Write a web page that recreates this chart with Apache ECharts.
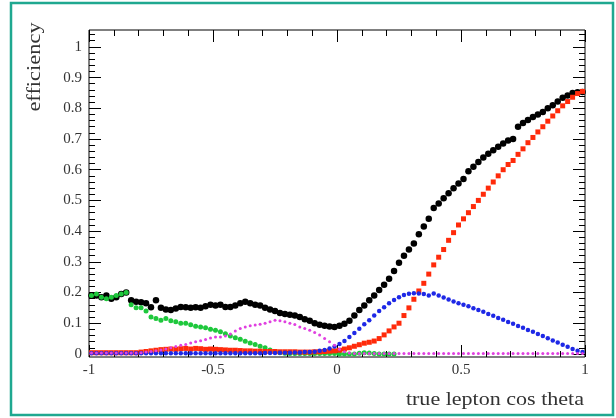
<!DOCTYPE html>
<html>
<head>
<meta charset="utf-8">
<script src="https://cdn.jsdelivr.net/npm/echarts@6/dist/echarts.min.js"></script>
<style>
  html, body { margin: 0; padding: 0; background: #fff; }
  #main { width: 616px; height: 418px; }
</style>
</head>
<body>
<div id="main"></div>
<script>
// bin centres of true lepton cos theta
const cosTheta = [
  -0.99, -0.97, -0.95, -0.93, -0.91, -0.89, -0.87, -0.85, -0.83, -0.81,
  -0.79, -0.77, -0.75, -0.73, -0.71, -0.69, -0.67, -0.65, -0.63, -0.61,
  -0.59, -0.57, -0.55, -0.53, -0.51, -0.49, -0.47, -0.45, -0.43, -0.41,
  -0.39, -0.37, -0.35, -0.33, -0.31, -0.29, -0.27, -0.25, -0.23, -0.21,
  -0.19, -0.17, -0.15, -0.13, -0.11, -0.09, -0.07, -0.05, -0.03, -0.01,
  0.01, 0.03, 0.05, 0.07, 0.09, 0.11, 0.13, 0.15, 0.17, 0.19,
  0.21, 0.23, 0.25, 0.27, 0.29, 0.31, 0.33, 0.35, 0.37, 0.39,
  0.41, 0.43, 0.45, 0.47, 0.49, 0.51, 0.53, 0.55, 0.57, 0.59,
  0.61, 0.63, 0.65, 0.67, 0.69, 0.71, 0.73, 0.75, 0.77, 0.79,
  0.81, 0.83, 0.85, 0.87, 0.89, 0.91, 0.93, 0.95, 0.97, 0.99
]

const effTotal = [
  0.19, 0.19, 0.185, 0.19, 0.18, 0.185, 0.195, 0.2, 0.175, 0.17,
  0.168, 0.165, 0.152, 0.175, 0.15, 0.145, 0.143, 0.148, 0.153, 0.152,
  0.15, 0.152, 0.15, 0.155, 0.16, 0.158, 0.16, 0.153, 0.153, 0.158,
  0.165, 0.17, 0.165, 0.16, 0.158, 0.15, 0.145, 0.14, 0.133, 0.13,
  0.128, 0.125, 0.12, 0.113, 0.108, 0.1, 0.095, 0.092, 0.089, 0.088,
  0.092, 0.098, 0.108, 0.125, 0.143, 0.158, 0.175, 0.19, 0.208, 0.225,
  0.245, 0.27, 0.297, 0.32, 0.34, 0.36, 0.39, 0.415, 0.44, 0.475,
  0.49, 0.507, 0.523, 0.54, 0.555, 0.57, 0.595, 0.61, 0.625, 0.64,
  0.652, 0.663, 0.675, 0.685, 0.695, 0.7, 0.74, 0.752, 0.762, 0.772,
  0.78, 0.788, 0.8, 0.81, 0.822, 0.834, 0.842, 0.85, 0.852, 0.853
]

const effRed = [
  0.004, 0.004, 0.004, 0.004, 0.004, 0.004, 0.004, 0.004, 0.004, 0.004,
  0.006, 0.008, 0.01, 0.012, 0.014, 0.015, 0.016, 0.015, 0.017, 0.018,
  0.016, 0.018, 0.017, 0.015, 0.016, 0.015, 0.014, 0.013, 0.012, 0.012,
  0.011, 0.01, 0.01, 0.009, 0.009, 0.008, 0.008, 0.008, 0.007, 0.007,
  0.007, 0.007, 0.006, 0.006, 0.006, 0.007, 0.007, 0.008, 0.009, 0.01,
  0.012, 0.016, 0.02, 0.025, 0.03, 0.035, 0.038, 0.042, 0.05, 0.062,
  0.075, 0.088, 0.1, 0.125, 0.15, 0.178, 0.205, 0.23, 0.26, 0.29,
  0.315, 0.34, 0.37, 0.395, 0.42, 0.44, 0.46, 0.48, 0.5, 0.52,
  0.54, 0.56, 0.58, 0.6, 0.617, 0.63, 0.65, 0.668, 0.688, 0.705,
  0.723, 0.74, 0.758, 0.775, 0.792, 0.808, 0.822, 0.836, 0.848, 0.855
]

const effBlue = [
  0.002, 0.002, 0.002, 0.002, 0.002, 0.002, 0.002, 0.002, 0.002, 0.002,
  0.002, 0.002, 0.002, 0.002, 0.002, 0.002, 0.002, 0.002, 0.002, 0.002,
  0.002, 0.002, 0.002, 0.002, 0.002, 0.002, 0.002, 0.002, 0.002, 0.002,
  0.002, 0.002, 0.002, 0.002, 0.002, 0.003, 0.003, 0.003, 0.004, 0.004,
  0.004, 0.005, 0.005, 0.006, 0.006, 0.007, 0.01, 0.013, 0.018, 0.024,
  0.032, 0.042, 0.055, 0.068, 0.082, 0.097, 0.11, 0.125, 0.14, 0.152,
  0.165, 0.176, 0.185, 0.192, 0.196, 0.198, 0.197, 0.195, 0.19, 0.197,
  0.19, 0.184, 0.177, 0.171, 0.165, 0.16, 0.155, 0.149, 0.143, 0.137,
  0.13, 0.124, 0.117, 0.111, 0.104, 0.098, 0.091, 0.085, 0.078, 0.072,
  0.065, 0.058, 0.051, 0.044, 0.037, 0.03, 0.023, 0.016, 0.01, 0.006
]

// empty bins (no entries) are left as null
const effGreen = [
  0.19, 0.195, 0.185, 0.18, 0.185, 0.19, 0.195, 0.2, 0.16, 0.15,
  0.15, 0.14, 0.12, 0.115, 0.11, 0.115, 0.108, 0.105, 0.1, 0.1,
  0.095, 0.09, 0.088, 0.085, 0.08, 0.077, 0.072, 0.066, 0.058, 0.053,
  0.048, 0.041, 0.036, 0.031, 0.025, 0.02, 0.013, 0.008, 0.004, 0.002,
  0.001, 0.001, 0.001, 0.001, 0.001, 0.001, 0.001, 0.001, 0.001, 0.001,
  0, 0, 0, 0, 0.002, 0.004, 0.003, 0.001, 0, 0,
  0, 0, null, null, null, null, null, null, null, null,
  null, null, null, null, null, null, null, null, null, null,
  null, null, null, null, null, null, null, null, null, null,
  null, null, null, null, null, null, null, null, null, null
]

const effMagenta = [
  0.003, 0.003, 0.003, 0.003, 0.003, 0.003, 0.003, 0.003, 0.003, 0.003,
  0.004, 0.006, 0.008, 0.01, 0.013, 0.016, 0.02, 0.024, 0.028, 0.031,
  0.036, 0.04, 0.043, 0.047, 0.052, 0.055, 0.055, 0.058, 0.065, 0.075,
  0.083, 0.088, 0.092, 0.094, 0.097, 0.1, 0.105, 0.11, 0.108, 0.105,
  0.1, 0.096, 0.088, 0.083, 0.077, 0.07, 0.062, 0.05, 0.04, 0.028,
  0.015, 0.007, 0.003, 0.001, 0.001, 0.001, 0.001, 0.001, 0.001, 0.001,
  0.001, 0.001, 0.001, 0.001, 0.001, 0.001, 0.001, 0.001, 0.001, 0.001,
  0.001, 0.001, 0.001, 0.001, 0.001, 0.001, 0.001, 0.001, 0.001, 0.001,
  0.001, 0.001, 0.001, 0.001, 0.001, 0.001, 0.001, 0.001, 0.001, 0.001,
  0.001, 0.001, 0.001, 0.001, 0.001, 0.001, 0.001, 0.001, 0.001, 0.001
]

const xTickLabels = [-1, -0.5, 0, 0.5, 1]
const yTickLabels = [0, 0.1, 0.2, 0.3, 0.4, 0.5, 0.6, 0.7, 0.8, 0.9, 1]

const serif = "'Liberation Serif', 'DejaVu Serif', serif"
const textColor = '#333'

const chartDom = document.getElementById('main')
const myChart = echarts.init(chartDom)

// small ticks on y every 0.02
const yMinorTicks = []
for (let k = 0; k <= 52; k++) yMinorTicks.push(+(k * 0.02).toFixed(2))

function points(values) {
  return cosTheta.map((x, i) => [x, values[i] === null ? '-' : values[i]])
}

function markerSeries(name, values, color, symbol, size) {
  return {
    name: name,
    type: 'scatter',
    symbol: symbol,
    symbolSize: size,
    itemStyle: { color: color, opacity: 1 },
    clip: false,
    data: points(values),
  }
}

function xAxisCfg(position, showLabel) {
  return {
    type: 'value',
    position: position,
    min: -1,
    max: 1,
    interval: 0.5,
    axisLine: { show: false, onZero: false },
    splitLine: { show: false },
    axisTick: { show: true, inside: true, length: 12, lineStyle: { color: '#000' } },
    minorTick: { show: true, splitNumber: 5, length: 6, lineStyle: { color: '#000' } },
    axisLabel: {
      show: showLabel,
      margin: 6,
      color: textColor,
      fontFamily: serif,
      fontSize: 15,
      customValues: xTickLabels,
      formatter: (v) => String(v),
    },
  }
}

function yAxisCfg(position, ticks, len, showLabel) {
  return {
    type: 'value',
    position: position,
    min: -0.01,
    max: 1.055,
    axisLine: { show: false, onZero: false },
    splitLine: { show: false },
    axisTick: { show: true, inside: true, length: len, customValues: ticks, lineStyle: { color: '#000' } },
    axisLabel: {
      show: showLabel,
      margin: 7,
      color: textColor,
      fontFamily: serif,
      fontSize: 15,
      customValues: yTickLabels,
      formatter: (v) => String(+v.toFixed(1)),
    },
  }
}

var option = {
  backgroundColor: '#fff',
  animation: false,
  grid: {
    left: 89,
    top: 30,
    width: 496,
    height: 327,
    show: true,
    borderColor: '#000',
    borderWidth: 1,
    backgroundColor: 'transparent',
  },
  xAxis: [xAxisCfg('bottom', true), xAxisCfg('top', false)],
  yAxis: [
    yAxisCfg('left', yTickLabels, 12, true),
    yAxisCfg('left', yMinorTicks, 6, false),
    yAxisCfg('right', yTickLabels, 12, false),
    yAxisCfg('right', yMinorTicks, 6, false),
  ],
  series: [
    markerSeries('total', effTotal, '#000000', 'circle', 6.5),
    markerSeries('green', effGreen, '#1ec83c', 'circle', 5),
    markerSeries('red', effRed, '#ff2a0a', 'rect', 5),
    markerSeries('blue', effBlue, '#1e28e6', 'circle', 4.5),
    markerSeries('magenta', effMagenta, '#e040e0', 'circle', 3),
  ],
  graphic: [
    {
      type: 'rect',
      shape: { x: 11, y: 3, width: 602, height: 412 },
      style: { fill: 'none', stroke: '#1fa890', lineWidth: 2.5 },
    },
    {
      type: 'text',
      x: 584,
      y: 400,
      scaleX: 1.16,
      style: {
        text: 'true lepton cos theta',
        font: '19px ' + serif,
        fill: textColor,
        textAlign: 'right',
        textVerticalAlign: 'middle',
      },
    },
    {
      type: 'text',
      x: 35,
      y: 67,
      rotation: Math.PI / 2,
      scaleX: 1.18,
      style: {
        text: 'efficiency',
        font: '19px ' + serif,
        fill: textColor,
        textAlign: 'center',
        textVerticalAlign: 'middle',
      },
    },
  ],
}

option && myChart.setOption(option)
</script>
</body>
</html>
